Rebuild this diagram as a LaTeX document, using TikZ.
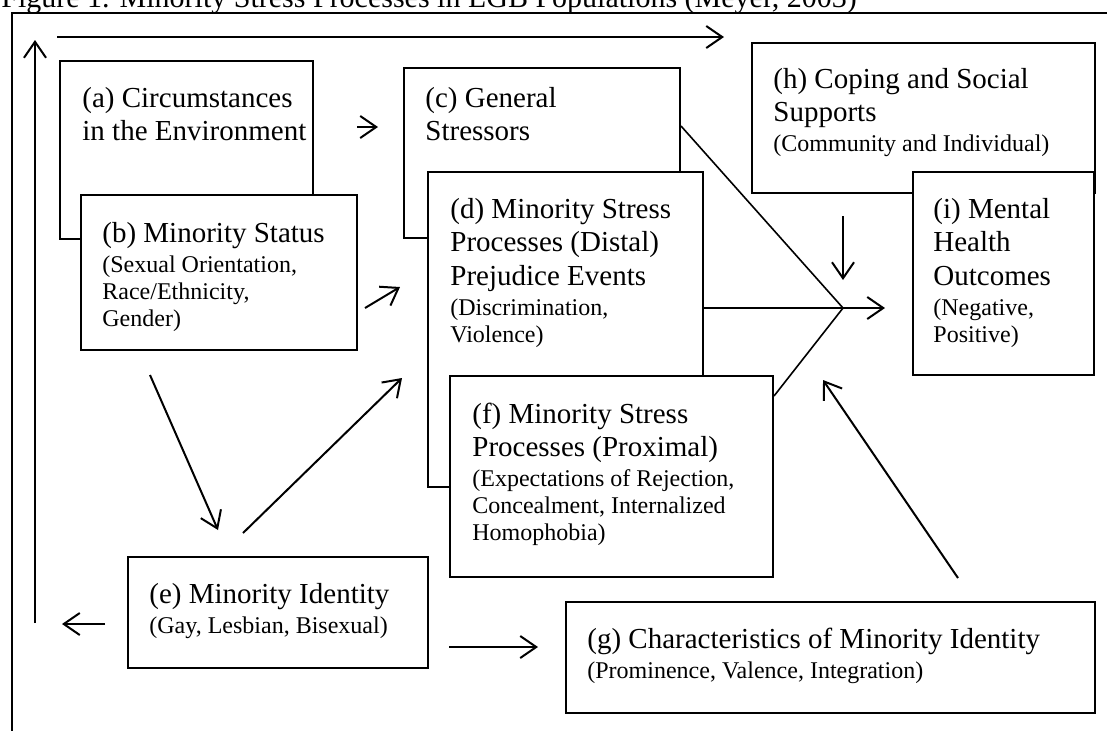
\documentclass[tikz,border=0pt]{standalone}
\usepackage{fontspec}
\setmainfont{Liberation Serif}
\usetikzlibrary{arrows.meta,fit}
\setlength{\parindent}{0pt}

\newcommand{\bigtext}{\fontsize{14.5}{16.75}\selectfont}
\newcommand{\smalltext}{\fontsize{12}{13.5}\selectfont}
\newcommand{\detail}{\par\vspace{1.5pt}\smalltext}

\tikzset{
  box/.style={draw, line width=1pt, fill=white, inner sep=0pt},
  txt/.style={anchor=base west, inner sep=0pt, text width=270pt, align=flush left, font=\bigtext},
  arr/.style={-{Straight Barb[length=8pt,width=11pt]}, line width=1pt},
}

\begin{document}
\begin{tikzpicture}[x=0.5pt,y=-0.5pt]
\useasboundingbox (0,0) rectangle (1107,730);
\clip (0,0) rectangle (1107,730);

% frame and title
\node[anchor=base west, inner sep=0pt, font=\fontsize{15}{17}\selectfont] (title) at (1,7)
  {Figure 1. Minority Stress Processes in LGB Populations (Meyer, 2003)};
\draw[line width=0.8pt] (12,13) rectangle (1125,745);

% boxes
\node[box, fit={(60,61) (313,239)}] (a) {};
\node[box, fit={(81,195) (357,350)}] (b) {};
\node[box, fit={(404,68) (680,238)}] (c) {};
\node[box, fit={(428,172) (703,487)}] (d) {};
\node[box, fit={(450,376) (773,577)}] (f) {};
\node[box, fit={(752,43) (1095,193)}] (h) {};
\node[box, fit={(913,172) (1094,375)}] (i) {};
\node[box, fit={(128,557) (428,668)}] (e) {};
\node[box, fit={(566,602) (1095,713)}] (g) {};

% texts
\node[txt] (at) at (82,107) {(a) Circumstances\par in the Environment\par};
\node[txt] (bt) at (102,242) {(b) Minority Status\detail (Sexual Orientation,\par Race/Ethnicity,\par Gender)\par};
\node[txt] (ct) at (425,107) {(c) General\par Stressors\par};
\node[txt] (dt) at (450,218) {(d) Minority Stress\par Processes (Distal)\par Prejudice Events\detail (Discrimination,\par Violence)\par};
\node[txt] (ft) at (472,423) {(f) Minority Stress\par Processes (Proximal)\detail (Expectations of Rejection,\par Concealment, Internalized\par Homophobia)\par};
\node[txt] (ht) at (773,88) {(h) Coping and Social\par Supports\detail (Community and Individual)\par};
\node[txt] (it) at (933,218) {(i) Mental\par Health\par Outcomes\detail (Negative,\par Positive)\par};
\node[txt] (et) at (149,603) {(e) Minority Identity\detail (Gay, Lesbian, Bisexual)\par};
\node[txt] (gt) at (587,648) {(g) Characteristics of Minority Identity\detail (Prominence, Valence, Integration)\par};

% arrow ends
\coordinate (top1) at (57,37);
\coordinate (top2) at (724,37);
\coordinate (left1) at (35,623);
\coordinate (left2) at (35,40);
\coordinate (hub) at (843,308);

% connectors
\draw[arr] (top1) -- (top2);
\draw[arr] (left1) -- (left2);
\draw[arr] (357,127) -- (378,127);
\draw[arr] (365,308) -- (400,287);
\draw[arr] (150,375) -- (218,530);
\draw[arr] (243,533) -- (402,378);
\draw[arr] (105,624) -- (62,624);
\draw[arr] (449,647) -- (538,647);
\draw[arr] (958,578) -- (823,380);
\draw[arr] (843,216) -- (843,280);
\draw[line width=0.8pt] ([shift={(0,59)}]c.north east) -- (hub);
\draw[line width=1pt] (d.east |- hub) -- (hub);
\draw[line width=0.8pt] ([shift={(0,21)}]f.north east) -- (hub);
\draw[arr] (hub) -- (885,308);
\end{tikzpicture}
\end{document}
